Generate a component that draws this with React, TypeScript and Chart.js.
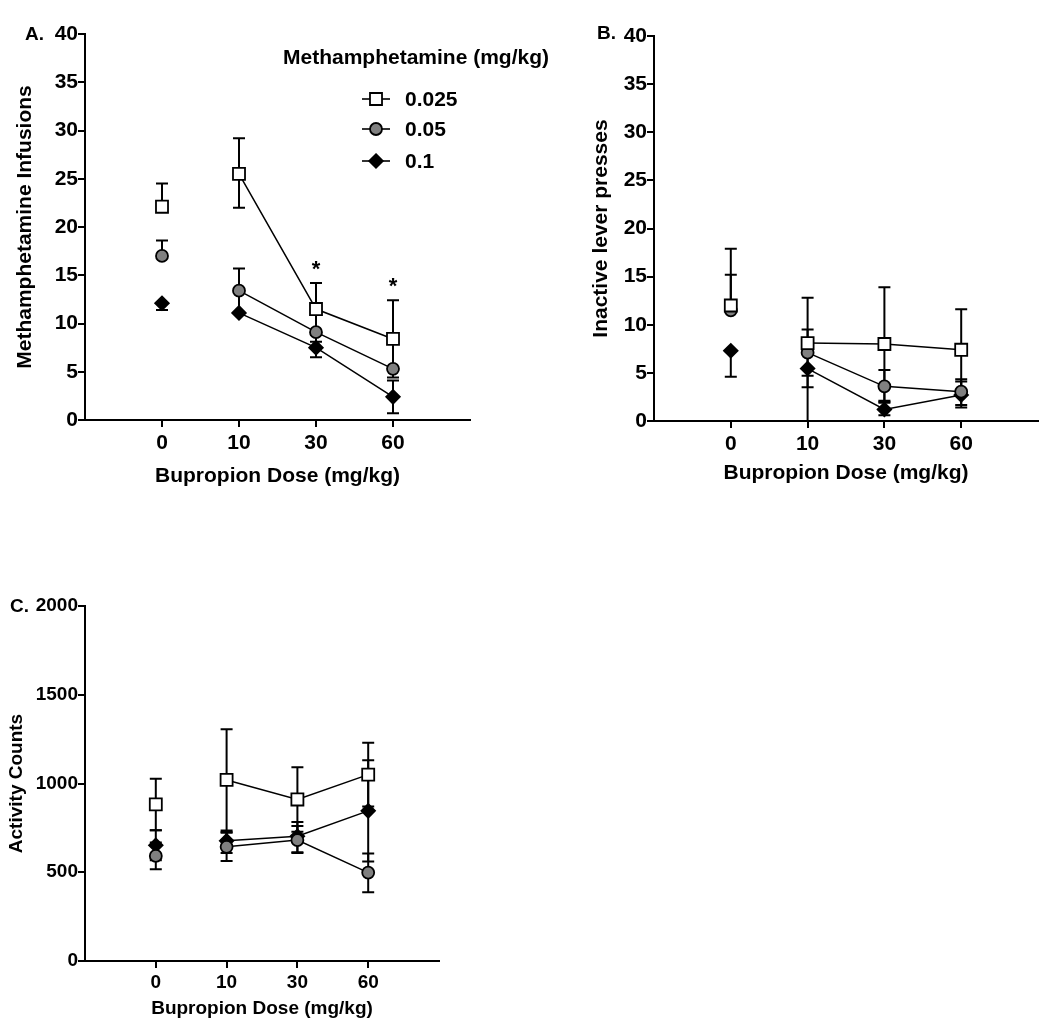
import React, { useEffect, useRef } from 'react';
import { Chart, registerables } from 'chart.js';

Chart.register(...registerables);

const FONT = '"Liberation Sans", Arial, Helvetica, sans-serif';
Chart.defaults.font.family = FONT;

// ---------- data ----------
const doseLabels = ['0', '10', '30', '60'];
const methLabels = ['0.025', '0.05', '0.1'];
const legendTitle = 'Methamphetamine (mg/kg)';
const xAxisTitle = 'Bupropion Dose (mg/kg)';

// Panel A: methamphetamine infusions
const infusions025 = [22.1, 25.5, 11.5, 8.4];
const infusions025Up = [2.4, 3.7, 2.7, 4.0];
const infusions025Down = [0, 3.5, 2.7, 4.0];
const infusions05 = [17.0, 13.4, 9.1, 5.3];
const infusions05Up = [1.6, 2.3, 0, 0];
const infusions05Down = [0, 2.3, 1.0, 0];
const infusions1 = [12.1, 11.1, 7.5, 2.4];
const infusions1Up = [0, 0, 0, 1.7];
const infusions1Down = [0.7, 0, 1.0, 1.7];
const infusionsStars = ['', '', '*', '*'];

// Panel B: inactive lever presses
const inactive025 = [12.0, 8.1, 8.0, 7.4];
const inactive025Up = [5.9, 4.7, 5.9, 4.2];
const inactive025Down = [0, 4.6, 5.9, 4.2];
const inactive05 = [11.5, 7.1, 3.6, 3.05];
const inactive05Up = [3.7, 2.4, 1.7, 1.3];
const inactive05Down = [0, 2.4, 1.7, 1.4];
const inactive1 = [7.3, 5.45, 1.2, 2.7];
const inactive1Up = [0, 0, 0.8, 1.4];
const inactive1Down = [2.7, 6.0, 0.6, 1.3];

// Panel C: activity counts
const activity025 = [882, 1020, 910, 1050];
const activity025Up = [145, 285, 182, 180];
const activity025Down = [145, 285, 182, 180];
const activity05 = [592, 643, 681, 498];
const activity05Up = [75, 80, 80, 108];
const activity05Down = [75, 80, 72, 110];
const activity1 = [652, 677, 703, 846];
const activity1Up = [85, 50, 80, 285];
const activity1Down = [85, 68, 90, 285];

// ---------- styles ----------
const markerStyles = [
  { pointStyle: 'rect', radius: 8.5, fill: '#ffffff' },
  { pointStyle: 'circle', radius: 6, fill: '#808080' },
  { pointStyle: 'rectRot', radius: 6.8, fill: '#000000' },
];

type Series = { mean: number[]; up: number[]; down: number[] };
type PanelSpec = {
  letter: string;
  box: { left: number; top: number; width: number; height: number };
  area: { left: number; top: number; right: number; bottom: number };
  letterPos: { x: number; y: number };
  yMax: number;
  yStep: number;
  yTitle: string;
  fontSize: number;
  yTitlePad: number;
  xTickPad: number;
  xTitlePad: number;
  series: Series[];
  stars?: string[];
  legend?: boolean;
};

const panels: PanelSpec[] = [
  {
    letter: 'A.',
    box: { left: 0, top: 0, width: 560, height: 500 },
    area: { left: 85, top: 34, right: 470, bottom: 420 },
    letterPos: { x: 25, y: 35 },
    yMax: 40,
    yStep: 5,
    yTitle: 'Methamphetamine Infusions',
    fontSize: 21,
    yTitlePad: 13,
    xTickPad: 4,
    xTitlePad: 11,
    series: [
      { mean: infusions025, up: infusions025Up, down: infusions025Down },
      { mean: infusions05, up: infusions05Up, down: infusions05Down },
      { mean: infusions1, up: infusions1Up, down: infusions1Down },
    ],
    stars: infusionsStars,
    legend: true,
  },
  {
    letter: 'B.',
    box: { left: 560, top: 0, width: 490, height: 500 },
    area: { left: 94, top: 36, right: 478, bottom: 421 },
    letterPos: { x: 37, y: 34 },
    yMax: 40,
    yStep: 5,
    yTitle: 'Inactive lever presses',
    fontSize: 21,
    yTitlePad: 29,
    xTickPad: 4,
    xTitlePad: 14,
    series: [
      { mean: inactive025, up: inactive025Up, down: inactive025Down },
      { mean: inactive05, up: inactive05Up, down: inactive05Down },
      { mean: inactive1, up: inactive1Up, down: inactive1Down },
    ],
  },
  {
    letter: 'C.',
    box: { left: 0, top: 540, width: 500, height: 486 },
    area: { left: 85, top: 66, right: 439, bottom: 421 },
    letterPos: { x: 10, y: 67 },
    yMax: 2000,
    yStep: 500,
    yTitle: 'Activity Counts',
    fontSize: 19,
    yTitlePad: 5,
    xTickPad: 3,
    xTitlePad: 6,
    series: [
      { mean: activity025, up: activity025Up, down: activity025Down },
      { mean: activity05, up: activity05Up, down: activity05Down },
      { mean: activity1, up: activity1Up, down: activity1Down },
    ],
  },
];

function drawMarker(ctx: CanvasRenderingContext2D, idx: number, x: number, y: number) {
  const st = markerStyles[idx];
  ctx.save();
  ctx.lineWidth = 1.8;
  ctx.strokeStyle = '#000';
  ctx.fillStyle = st.fill;
  ctx.beginPath();
  if (st.pointStyle === 'rect') {
    const s = st.radius * Math.SQRT1_2;
    ctx.rect(x - s, y - s, 2 * s, 2 * s);
  } else if (st.pointStyle === 'circle') {
    ctx.arc(x, y, st.radius, 0, Math.PI * 2);
  } else {
    const r = st.radius;
    ctx.moveTo(x, y - r);
    ctx.lineTo(x + r, y);
    ctx.lineTo(x, y + r);
    ctx.lineTo(x - r, y);
    ctx.closePath();
  }
  ctx.fill();
  ctx.stroke();
  ctx.restore();
}

const errorBarPlugin = {
  id: 'errorBars',
  beforeDatasetsDraw(chart: any) {
    const { ctx } = chart;
    const xs = chart.scales.x;
    const ys = chart.scales.y;
    ctx.save();
    ctx.strokeStyle = '#000';
    ctx.lineWidth = 2;
    chart.data.datasets.forEach((ds: any) => {
      ds.data.forEach((p: any, i: number) => {
        const px = xs.getPixelForValue(p.x);
        const py = ys.getPixelForValue(p.y);
        const up = ds.errUp[i];
        const dn = ds.errDown[i];
        ctx.beginPath();
        if (up > 0) {
          const ty = ys.getPixelForValue(p.y + up);
          ctx.moveTo(px, py);
          ctx.lineTo(px, ty);
          ctx.moveTo(px - 6, ty);
          ctx.lineTo(px + 6, ty);
        }
        if (dn > 0) {
          const low = p.y - dn;
          const by = ys.getPixelForValue(Math.max(low, ys.min));
          ctx.moveTo(px, py);
          ctx.lineTo(px, by);
          if (low >= ys.min) {
            ctx.moveTo(px - 6, by);
            ctx.lineTo(px + 6, by);
          }
        }
        ctx.stroke();
      });
    });
    ctx.restore();
  },
};

function makeAnnotationPlugin(spec: PanelSpec) {
  return {
    id: 'annotations',
    afterDraw(chart: any) {
      const { ctx } = chart;
      const xs = chart.scales.x;
      const ys = chart.scales.y;
      ctx.save();
      ctx.fillStyle = '#000';
      ctx.font = `bold 19px ${FONT}`;
      ctx.textAlign = 'left';
      ctx.textBaseline = 'middle';
      ctx.fillText(spec.letter, spec.letterPos.x, spec.letterPos.y);

      if (spec.stars) {
        const top = spec.series[0];
        ctx.font = `bold 22px ${FONT}`;
        ctx.textAlign = 'center';
        ctx.textBaseline = 'alphabetic';
        spec.stars.forEach((s, i) => {
          if (!s) return;
          const px = xs.getPixelForValue(i);
          const py = ys.getPixelForValue(top.mean[i] + top.up[i]);
          ctx.fillText(s, px, py - 7);
        });
      }

      if (spec.legend) {
        ctx.font = `bold 21px ${FONT}`;
        ctx.textAlign = 'left';
        ctx.textBaseline = 'middle';
        ctx.fillText(legendTitle, 283, 58);
        const rows = [99, 129, 161];
        methLabels.forEach((lab, i) => {
          const y = rows[i];
          ctx.strokeStyle = '#000';
          ctx.lineWidth = 1.6;
          ctx.beginPath();
          ctx.moveTo(362, y);
          ctx.lineTo(390, y);
          ctx.stroke();
          drawMarker(ctx, i, 376, y);
          ctx.fillStyle = '#000';
          ctx.fillText(lab, 405, y + 1);
        });
      }
      ctx.restore();
    },
  };
}

function Panel({ spec }: { spec: PanelSpec }) {
  const ref = useRef<HTMLCanvasElement>(null);
  useEffect(() => {
    const canvas = ref.current;
    if (!canvas) return;
    const { area, box } = spec;
    const fs = spec.fontSize;
    const datasets = spec.series.map((s, si) => ({
      label: methLabels[si],
      data: s.mean.map((v, i) => ({ x: i, y: v })),
      errUp: s.up,
      errDown: s.down,
      borderColor: '#000',
      borderWidth: 1.5,
      pointStyle: markerStyles[si].pointStyle,
      pointRadius: markerStyles[si].radius,
      pointBackgroundColor: markerStyles[si].fill,
      pointBorderColor: '#000',
      pointBorderWidth: 1.8,
      fill: false,
      tension: 0,
      clip: false,
      segment: {
        borderColor: (c: any) => (c.p0DataIndex === 0 ? 'rgba(0,0,0,0)' : '#000'),
      },
    }));
    const gridOpts = {
      display: true,
      drawOnChartArea: false,
      drawTicks: true,
      tickLength: 7,
      tickWidth: 2,
      tickColor: '#000',
      color: '#000',
      lineWidth: 2,
    };
    const borderOpts = { display: true, color: '#000', width: 2 };
    const chart = new Chart(canvas, {
      type: 'line',
      data: { datasets: datasets as any },
      options: {
        animation: false,
        responsive: false,
        events: [],
        layout: { padding: { left: 0, top: area.top, right: box.width - area.right, bottom: 0 } },
        plugins: { legend: { display: false }, tooltip: { enabled: false } },
        scales: {
          x: {
            type: 'linear',
            min: -1,
            max: 4,
            afterBuildTicks: (sc: any) => {
              sc.ticks = doseLabels.map((_, i) => ({ value: i }));
            },
            afterFit: (sc: any) => {
              sc.height = box.height - area.bottom;
            },
            ticks: {
              callback: (v: any) => doseLabels[v] ?? '',
              font: { size: fs, weight: 'bold', family: FONT },
              color: '#000',
              padding: spec.xTickPad,
              maxRotation: 0,
              autoSkip: false,
            },
            grid: gridOpts,
            border: borderOpts,
            title: {
              display: true,
              text: xAxisTitle,
              font: { size: fs, weight: 'bold', family: FONT },
              color: '#000',
              padding: { top: 0, bottom: spec.xTitlePad },
            },
          },
          y: {
            type: 'linear',
            min: 0,
            max: spec.yMax,
            afterFit: (sc: any) => {
              sc.width = area.left;
            },
            ticks: {
              stepSize: spec.yStep,
              callback: (v: any) => String(v),
              font: { size: fs, weight: 'bold', family: FONT },
              color: '#000',
              padding: 0,
            },
            grid: gridOpts,
            border: borderOpts,
            title: {
              display: true,
              text: spec.yTitle,
              font: { size: fs, weight: 'bold', family: FONT },
              color: '#000',
              padding: { top: spec.yTitlePad, bottom: 0 },
            },
          },
        },
      } as any,
      plugins: [errorBarPlugin, makeAnnotationPlugin(spec)],
    });
    return () => chart.destroy();
  }, [spec]);
  return (
    <canvas
      ref={ref}
      width={spec.box.width}
      height={spec.box.height}
      style={{
        position: 'absolute',
        left: spec.box.left,
        top: spec.box.top,
        width: spec.box.width,
        height: spec.box.height,
      }}
    />
  );
}

export default function App() {
  return (
    <div
      style={{
        position: 'absolute',
        left: 0,
        top: 0,
        width: 1050,
        height: 1026,
        background: '#ffffff',
        overflow: 'hidden',
      }}
    >
      {panels.map((p) => (
        <Panel key={p.letter} spec={p} />
      ))}
    </div>
  );
}
